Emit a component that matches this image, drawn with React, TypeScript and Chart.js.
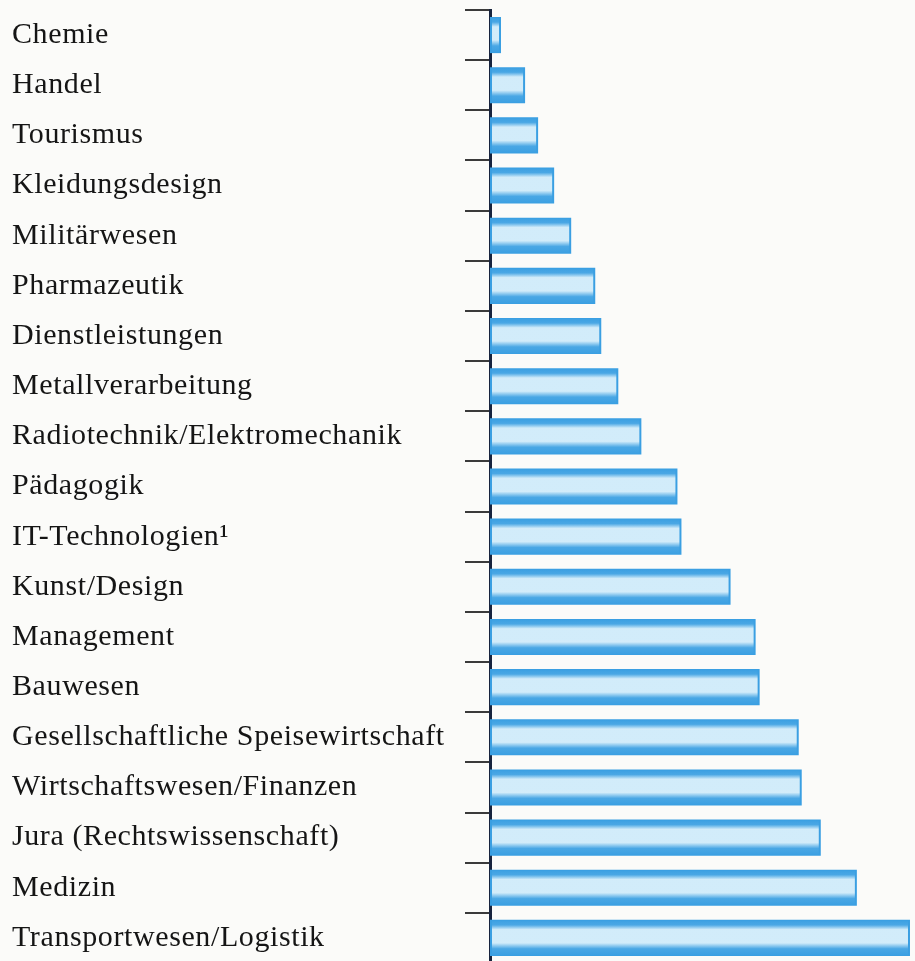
import React, { useEffect, useRef } from "react";
import { Chart, registerables } from "chart.js";

Chart.register(...registerables);

const categories: string[] = [
  "Chemie",
  "Handel",
  "Tourismus",
  "Kleidungsdesign",
  "Militärwesen",
  "Pharmazeutik",
  "Dienstleistungen",
  "Metallverarbeitung",
  "Radiotechnik/Elektromechanik",
  "Pädagogik",
  "IT-Technologien¹",
  "Kunst/Design",
  "Management",
  "Bauwesen",
  "Gesellschaftliche Speisewirtschaft",
  "Wirtschaftswesen/Finanzen",
  "Jura (Rechtswissenschaft)",
  "Medizin",
  "Transportwesen/Logistik",
];

const values: number[] = [
  11, 35, 48, 64, 81, 105, 111, 128, 151, 187, 191, 240, 265, 269, 308, 311, 330, 366, 419,
];

const xMax = 424;

const spacingPlugin = {
  id: "labelSpacing",
  beforeDraw(chart: any) {
    (chart.ctx as any).letterSpacing = "0.6px";
  },
  beforeDatasetsDraw(chart: any) {
    (chart.ctx as any).letterSpacing = "0px";
  },
};

const highlightPlugin = {
  id: "barHighlight",
  afterDatasetsDraw(chart: any) {
    const ctx = chart.ctx as CanvasRenderingContext2D;
    const meta = chart.getDatasetMeta(0);
    ctx.save();
    meta.data.forEach((el: any) => {
      const { x, y, base, height } = el.getProps(["x", "y", "base", "height"], true);
      const top = y - height / 2;
      const g = ctx.createLinearGradient(0, top, 0, top + height);
      g.addColorStop(0, "rgba(214,238,250,0)");
      g.addColorStop(0.14, "rgba(214,238,250,0.1)");
      g.addColorStop(0.27, "rgba(218,240,251,0.95)");
      g.addColorStop(0.64, "rgba(218,240,251,0.95)");
      g.addColorStop(0.8, "rgba(214,238,250,0.1)");
      g.addColorStop(1, "rgba(214,238,250,0)");
      ctx.fillStyle = g;
      const left = Math.min(base, x) + 2;
      const w = Math.abs(x - base) - 4;
      if (w > 0) ctx.fillRect(left, top + 1, w, height - 2);
    });
    ctx.restore();
  },
};

export default function App() {
  const canvasRef = useRef<HTMLCanvasElement | null>(null);

  useEffect(() => {
    if (!canvasRef.current) return;
    const chart = new Chart(canvasRef.current, {
      type: "bar",
      data: {
        labels: categories,
        datasets: [
          {
            data: values,
            backgroundColor: "#3a9fe2",
            borderWidth: 0,
            barPercentage: 0.72,
            categoryPercentage: 1,
          },
        ],
      },
      options: {
        indexAxis: "y",
        animation: false,
        responsive: false,
        maintainAspectRatio: false,
        layout: { padding: { left: 12, top: 10, right: 0, bottom: 0 } },
        plugins: {
          legend: { display: false },
          tooltip: { enabled: false },
        },
        scales: {
          x: {
            display: false,
            min: 0,
            max: xMax,
          },
          y: {
            position: "left",
            afterFit: (scale: any) => {
              scale.width = 478;
              scale.paddingTop = 0;
              scale.paddingBottom = 0;
            },
            border: { display: true, color: "#17233d", width: 3 },
            grid: {
              offset: true,
              drawOnChartArea: false,
              drawTicks: true,
              tickLength: 25,
              color: "#3a3a3a",
              lineWidth: 2,
            },
            ticks: {
              crossAlign: "far",
              color: "#151515",
              font: { family: "'Liberation Serif', serif", size: 30 },
              autoSkip: false,
            },
          },
        },
      },
      plugins: [spacingPlugin, highlightPlugin],
    });
    return () => chart.destroy();
  }, []);

  return (
    <div
      style={{
        position: "fixed",
        left: 0,
        top: 0,
        width: 915,
        height: 961,
        background: "#fbfbf9",
        overflow: "hidden",
      }}
    >
      <canvas ref={canvasRef} width={915} height={963} style={{ display: "block" }} />
    </div>
  );
}
